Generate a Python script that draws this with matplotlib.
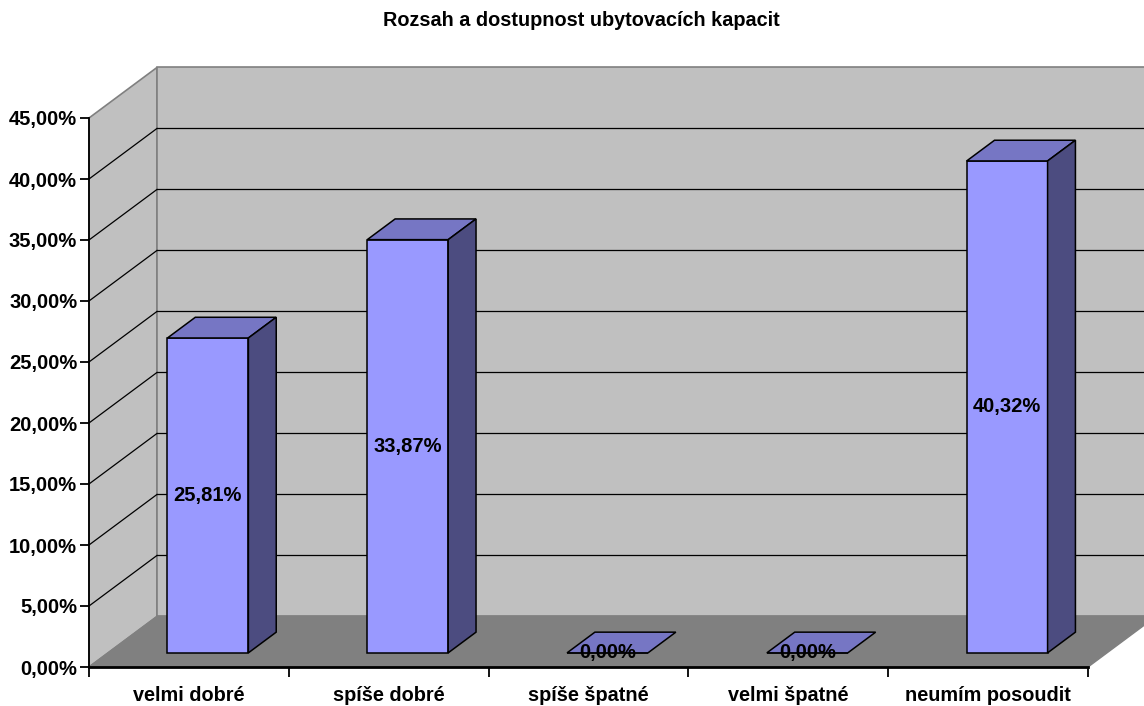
import matplotlib.pyplot as plt
from matplotlib.patches import Polygon
import numpy as np

plt.rcParams['font.family'] = ['Liberation Sans', 'DejaVu Sans']

categories = ["velmi dobré", "spíše dobré", "spíše špatné", "velmi špatné", "neumím posoudit"]
values = [25.81, 33.87, 0.00, 0.00, 40.32]
y_ticks = [0, 5, 10, 15, 20, 25, 30, 35, 40, 45]
title = "Rozsah a dostupnost ubytovacích kapacit"

# oblique depth of the box (data units) and bar placement inside it
DX, DY = 0.34, 4.14
F0, F1 = 0.28, 0.69
BAR_W = 0.405
YMAX = 45

WALL = '#C0C0C0'
FLOOR = '#808080'
EDGE = '#808080'
FRONT = '#9999FF'
TOP = '#7676C4'
SIDE = '#4C4C80'

fig = plt.figure(figsize=(11.44, 7.06), dpi=100)
ax = fig.add_axes([89 / 1144, 39 / 706, 999 / 1144, 549 / 706])
ax.set_xlim(0, len(categories))
ax.set_ylim(0, YMAX)
n = len(categories)

# side wall, back wall, floor
side = Polygon([(0, 0), (DX, DY), (DX, YMAX + DY), (0, YMAX)],
               fc=WALL, ec=EDGE, lw=1.2, clip_on=False, zorder=0)
back = Polygon([(DX, DY), (n + DX, DY), (n + DX, YMAX + DY), (DX, YMAX + DY)],
               fc=WALL, ec=EDGE, lw=1.2, clip_on=False, zorder=0)
floor = Polygon([(0, 0), (n, 0), (n + DX, DY), (DX, DY)],
                fc=FLOOR, ec=EDGE, lw=1.0, clip_on=False, zorder=0.5)
for p in (side, back, floor):
    ax.add_patch(p)

# gridlines on the back wall and the side wall
for v in y_ticks[1:-1]:
    ax.plot([DX, n + DX], [v + DY, v + DY], color='black', lw=0.9, clip_on=False, zorder=1)
    ax.plot([0, DX], [v, v + DY], color='black', lw=0.9, clip_on=False, zorder=1)

# columns: front face via ax.bar, top and side faces as polygons
x = np.arange(n) + 0.5 + F0 * DX
y0 = F0 * DY
d = F1 - F0
ax.bar(x, values, width=BAR_W, bottom=y0, color=FRONT, edgecolor='black',
       linewidth=1.1, zorder=3, clip_on=False)
for xc, v in zip(x, values):
    xl, xr = xc - BAR_W / 2, xc + BAR_W / 2
    top = Polygon([(xl, y0 + v), (xr, y0 + v), (xr + d * DX, y0 + v + d * DY),
                   (xl + d * DX, y0 + v + d * DY)],
                  fc=TOP, ec='black', lw=1.1, clip_on=False, zorder=3)
    ax.add_patch(top)
    if v > 0:
        sd = Polygon([(xr, y0), (xr + d * DX, y0 + d * DY), (xr + d * DX, y0 + v + d * DY),
                      (xr, y0 + v)],
                     fc=SIDE, ec='black', lw=1.1, clip_on=False, zorder=3)
        ax.add_patch(sd)
    ax.text(xc, y0 + v / 2, f"{v:.2f}%".replace('.', ','), ha='center', va='center',
            fontsize=14.5, fontweight='bold', zorder=5)

# axes
for s in ('top', 'right'):
    ax.spines[s].set_visible(False)
ax.spines['left'].set_linewidth(1.3)
ax.spines['bottom'].set_linewidth(2.0)
ax.spines['left'].set_zorder(4)
ax.spines['bottom'].set_zorder(4)

ax.set_yticks(y_ticks)
ax.set_yticklabels([f"{t:.2f}%".replace('.', ',') for t in y_ticks],
                   fontsize=14.5, fontweight='bold')
ax.tick_params(axis='y', length=6.5, width=1.3, pad=2)

ax.set_xticks(np.arange(n + 1))
ax.set_xticklabels([])
ax.tick_params(axis='x', which='major', length=7, width=1.3)
ax.set_xticks(np.arange(n) + 0.5, minor=True)
ax.set_xticklabels(categories, minor=True, fontsize=14.3, fontweight='bold')
ax.tick_params(axis='x', which='minor', length=0, pad=14)

fig.text(581 / 1144, 1 - 20 / 706, title, ha='center', va='center',
         fontsize=14.3, fontweight='bold')

fig.savefig('out.png', dpi=100)
